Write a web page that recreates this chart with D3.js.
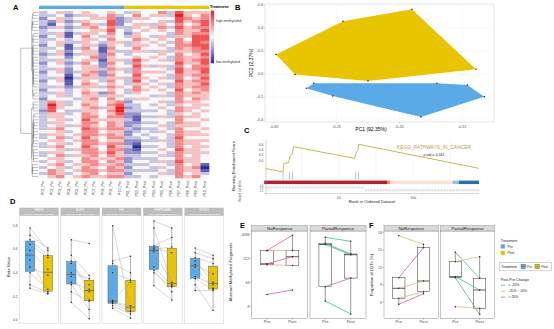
<!DOCTYPE html>
<html><head><meta charset="utf-8">
<script src="https://cdn.jsdelivr.net/npm/d3@7"></script>
<style>body{margin:0;background:#fff}svg{display:block}text{font-family:"Liberation Sans",Arial,sans-serif}</style>
</head><body><svg id="fig" width="554" height="329"></svg>
<script>
// ================= DATA =================
// Panel A: methylation heatmap, levels 0 (low) .. 8 (high); 10 Pre columns + 10 Post columns per row
const heatPre = ["3453454454","3342355463","2453445562","3252354472","3143465372","2352356463","3443445574","3351355464","2451464354","3343455464","3453354355","2451455254","3341364164","3452455153","2351355264","3442446254","3353455155","2452364264","3443455254","3352455365","2452356254","3441465264","3350355355","2451454364","3441465454","3352355365","2443454454","3353465264","3453455355","2444356464","3653455456","3853465467","3754456358","2743355468","3553465457","3554466466","3453475555","3554466465","3453565465","3564476566","4453466455","3554566565","3463475466","4554566455","3453466566","3564475475","4453566466","3554466575","3463556465","4554465556","3453466465","4564556556","3453465465","4654566566","3653456455","4564565566"];
const heatPost = ["3544637555","4645538546","3554447656","3444537567","4553546457","3545637566","3454546557","2544436566","3543535577","4654546477","3545436576","3554546677","4644436567","3553535566","3444546457","4545436556","3754536567","3644447557","4753536466","3644437567","3655547557","4744436566","3654536457","3743447566","3554536557","4645436566","3654547456","3544436565","4443536555","3554446465","2444536554","3343435455","2344546554","3333436545","2244435454","2133536554","3144446445","2233436554","2344535554","3233436445","2343546554","2434436555","3343437444","2233536555","2144436554","3033436455","2144547554","2233436555","3344536454","2333446554","2443537554","3334436451","2443546560","3333436551","2444536453","3343446564"];
const heatColLabels = ["P01_Pre","P02_Pre","P03_Pre","P04_Pre","P05_Pre","P06_Pre","P07_Pre","P08_Pre","P09_Pre","P10_Pre","P01_Post","P02_Post","P03_Post","P04_Post","P05_Post","P06_Post","P07_Post","P08_Post","P09_Post","P10_Post"];
const heatColGroup = ["Pre","Pre","Pre","Pre","Pre","Pre","Pre","Pre","Pre","Pre","Post","Post","Post","Post","Post","Post","Post","Post","Post","Post"];
const heatRowSplit = 30;
const heatLegendLabels = ["high methylated","low methylated"];

// Panel B: PCA coordinates
const pcaPre  = [[-0.2742,-0.124],[-0.2683,-0.081],[-0.170,-0.081],[-0.1457,-0.096],[-0.1322,-0.197],[-0.1827,-0.374],[-0.2532,-0.191]];
const pcaPost = [[-0.2984,0.170],[-0.2832,-0.004],[-0.225,-0.061],[-0.1388,0.041],[-0.190,0.563],[-0.245,0.458]];
const pcaXTicks = [-0.30,-0.25,-0.20,-0.15];
const pcaYTicks = [-0.4,-0.2,0.0,0.2,0.4,0.6];

// Panel C: GSEA
const gseaRunning = [[1.2,-0.31],[12.6,-0.44],[13.3,-0.11],[16.4,-0.09],[17.3,0.16],[18.7,0.22],[19.8,0.51],[60.7,0.07],[61.6,0.28],[62.9,0.39],[63.4,0.60],[144,-0.30]];
const gseaHits = [12.6,17,19,61.3,63.3];
const gseaBands = [[0,82.4],[82.4,84.5],[84.5,126.5],[126.5,130.7],[130.7,144]];
const gseaMetric = [[1,67,0.9],[68,144,-1.0]];
const gseaYTicks = [0.0,0.2,0.4,0.6];
const gseaXTicks = [50,100];

// Panel D: beta values per gene (paired samples)
const dGenes = ["BMP4","E2F3","FH","HSP90AB1","RXRG"];
const dCoords = ["chr14:54418942-54421560","chr6:20401213-20403418","chr1:241519610-241520852","chr6:44246155-44247378","chr9:137325016-137326340"];
const dPre = [
  [0.78,0.72,0.68,0.64,0.59,0.51,0.45,0.40,0.30,0.27],
  [0.68,0.55,0.50,0.48,0.40,0.37,0.32,0.30,0.24,0.15],
  [0.80,0.50,0.48,0.40,0.165,0.155,0.15,0.14,0.12,0.10],
  [0.84,0.78,0.63,0.61,0.60,0.58,0.45,0.42,0.40,0.29],
  [0.61,0.57,0.53,0.50,0.47,0.45,0.37,0.35,0.30,0.25]];
const dPost = [
  [0.59,0.61,0.55,0.53,0.43,0.24,0.38,0.26,0.23,0.22],
  [0.65,0.38,0.24,0.30,0.35,0.17,0.26,0.09,0.16,0.01],
  [0.08,0.54,0.40,0.34,0.32,0.12,0.10,0.07,0.05,0.015],
  [0.78,0.30,0.70,0.57,0.62,0.32,0.29,0.24,0.28,0.17],
  [0.55,0.52,0.48,0.32,0.39,0.27,0.30,0.26,0.08,0.25]];
const dYTicks = [0.0,0.2,0.4,0.6,0.8];

// Panels E/F
const responseGroups = ["NoResponse","PartialResponse"];
const timepoints = ["Pre","Post"];
const ePre  = [[1024,1000,323,297,23],[3158,1900,1700,45,13]];
const ePost = [[3755,1024,593,279,34],[2233,750,705,94,4.3]];
const eYTicks = [8,64,512,4096];
const fPre  = [[17.42,10.22,8.40,6.69,5.66],[14.58,12.96,10.39,10.22,5.25]];
const fPost = [[15.95,15.37,9.65,7.82,7.47],[10.12,13.82,8.11,3.94,4.97]];
const fYTicks = [6,9,12,15,18];
const changeLevels = ["< -20%","-20% ~ 20%","> 20%"];

// ================= STYLE =================
const C_PRE = "#5AAAE8", C_POST = "#E9C400";
const changeColors = ["#44b994","#e6b86c","#d85aab"];
const bandColors = ["#b2222e","#ee8a67","#fbe1d8","#8fc1e0","#2c6db0"];
const TXT = "#4d4d4d";

const svg = d3.select("#fig");
svg.append("rect").attr("width",554).attr("height",329).attr("fill","#fff");
function txt(g,x,y,s,size,opt={}){
  const t=g.append("text").attr("x",x).attr("y",y).text(s).attr("font-size",size)
    .attr("fill",opt.fill||"#000").attr("text-anchor",opt.anchor||"start");
  if(opt.weight) t.attr("font-weight",opt.weight);
  if(opt.rot!==undefined) t.attr("transform",`rotate(${opt.rot},${x},${y})`);
  if(opt.dy) t.attr("dy",opt.dy);
  return t;
}

// panel letters
[["A",13,10],["B",235,10],["C",244,133],["D",10,204],["E",240,228],["F",369,228]]
  .forEach(d=>txt(svg,d[1],d[2],d[0],7.5,{weight:"bold"}));

// ================= PANEL A =================
(function(){
  const g=svg.append("g");
  const heatRows = heatPre.map((p,i)=>(p+heatPost[i]).split("").map(Number));
  const nR=heatRows.length, nC=heatRows[0].length;
  const xH=d3.scaleBand().domain(d3.range(nC)).range([39,209]);
  const yH=d3.scaleBand().domain(d3.range(nR)).range([11,178]);
  const col=d3.scaleLinear().domain([0,4,8]).range(["#2a2a9e","#f8f8f8","#f01c1c"]);
  const grpCol=d3.scaleOrdinal().domain(["Pre","Post"]).range([C_PRE,C_POST]);
  heatRows.forEach((r,i)=>r.forEach((v,j)=>{
    g.append("rect").attr("x",xH(j)).attr("y",yH(i)).attr("width",xH.bandwidth()+0.3)
     .attr("height",yH.bandwidth()+0.3).attr("fill",col(v));
  }));
  heatColGroup.forEach((gr,j)=>g.append("rect").attr("x",xH(j)).attr("y",5.7)
     .attr("width",xH.bandwidth()+0.3).attr("height",3.3).attr("fill",grpCol(gr)));
  heatColLabels.forEach((l,j)=>txt(g,xH(j)+xH.bandwidth()/2+1.2,181,l,3.6,{anchor:"end",rot:-90,fill:"#444"}));
  // legend
  txt(g,210,7.8,"Treatment",3.9,{weight:"bold"});
  const defs=svg.append("defs");
  const lg=defs.append("linearGradient").attr("id","hmgrad").attr("x1",0).attr("x2",0).attr("y1",0).attr("y2",1);
  [[0,col(8)],[0.5,col(4)],[1,col(0)]].forEach(s=>lg.append("stop").attr("offset",s[0]).attr("stop-color",s[1]));
  g.append("rect").attr("x",210.7).attr("y",10.7).attr("width",3.4).attr("height",52.6).attr("fill","url(#hmgrad)");
  txt(g,216,22,heatLegendLabels[0],3.6,{fill:"#333"});
  txt(g,216,63,heatLegendLabels[1],3.6,{fill:"#333"});
  // row dendrogram (order-preserving average linkage)
  function dist(a,b){let s=0;for(let k=0;k<a.length;k++){const d=a[k]-b[k];s+=d*d;}return Math.sqrt(s);}
  function link(A,B){let s=0;for(const i of A.leaves)for(const j of B.leaves)s+=dist(heatRows[i],heatRows[j]);return s/(A.leaves.length*B.leaves.length);}
  function clusterAdj(idx){
    let nodes=idx.map(i=>({leaves:[i],h:0}));
    while(nodes.length>1){
      let best=0,bd=Infinity;
      for(let k=0;k<nodes.length-1;k++){const d=link(nodes[k],nodes[k+1]);if(d<bd){bd=d;best=k;}}
      const a=nodes[best],b=nodes[best+1];
      nodes.splice(best,2,{leaves:a.leaves.concat(b.leaves),h:Math.max(bd,a.h,b.h),children:[a,b]});
    }
    return nodes[0];
  }
  const up=clusterAdj(d3.range(0,heatRowSplit)), lo=clusterAdj(d3.range(heatRowSplit,nR));
  const root={children:[up,lo],root:true,leaves:[]};
  const hx=d3.scaleLinear().domain([0,Math.max(up.h,lo.h)]).range([38.5,31.5]);
  const X=n=>n.root?20.7:hx(n.h);
  function place(n){ if(!n.children){n.y=yH(n.leaves[0])+yH.bandwidth()/2;return;} n.children.forEach(place); n.y=(n.children[0].y+n.children[1].y)/2; }
  place(root);
  let p="";
  (function draw(n){ if(!n.children) return;
    const x=X(n),[a,b]=n.children;
    p+=`M${x},${a.y}V${b.y}M${x},${a.y}H${X(a)}M${x},${b.y}H${X(b)}`;
    draw(a);draw(b);})(root);
  g.append("path").attr("d",p).attr("fill","none").attr("stroke","#666").attr("stroke-width",0.4);
})();

// ================= PANEL B =================
(function(){
  const g=svg.append("g");
  const xB=d3.scaleLinear().domain([-0.30,-0.15]).range([274,462]);
  const yB=d3.scaleLinear().domain([-0.4,0.6]).range([120,5]);
  const L=265,R=494,T=4,B=122;
  g.append("rect").attr("x",L).attr("y",T).attr("width",R-L).attr("height",B-T).attr("fill","#fff").attr("stroke","#d0d0d0").attr("stroke-width",0.5);
  pcaXTicks.forEach(t=>{g.append("line").attr("x1",xB(t)).attr("x2",xB(t)).attr("y1",T).attr("y2",B).attr("stroke","#f0f0f0").attr("stroke-width",0.5);
    g.append("line").attr("x1",xB(t)).attr("x2",xB(t)).attr("y1",B).attr("y2",B+1.5).attr("stroke","#999").attr("stroke-width",0.4);
    txt(g,xB(t),B+5.5,t.toFixed(2),3.8,{anchor:"middle",fill:TXT});});
  pcaYTicks.forEach(t=>{g.append("line").attr("x1",L).attr("x2",R).attr("y1",yB(t)).attr("y2",yB(t)).attr("stroke","#f0f0f0").attr("stroke-width",0.5);
    g.append("line").attr("x1",L-1.5).attr("x2",L).attr("y1",yB(t)).attr("y2",yB(t)).attr("stroke","#999").attr("stroke-width",0.4);
    txt(g,L-2,yB(t)+1.3,t.toFixed(1),3.8,{anchor:"end",fill:TXT});});
  [[pcaPost,C_POST],[pcaPre,C_PRE]].forEach(([pts,c])=>{
    const h=d3.polygonHull(pts.map(d=>[xB(d[0]),yB(d[1])]));
    g.append("path").attr("d","M"+h.join("L")+"Z").attr("fill",c);
    pts.forEach(d=>g.append("circle").attr("cx",xB(d[0])).attr("cy",yB(d[1])).attr("r",0.8).attr("fill","#333"));
  });
  txt(g,371,131,"PC1 (92.35%)",5,{anchor:"middle"});
  txt(g,253,63,"PC2 (2.37%)",5,{anchor:"middle",rot:-90});
})();

// ================= PANEL C =================
(function(){
  const g=svg.append("g");
  const xC=d3.scaleLinear().domain([0,144]).range([264.2,478.8]);
  const yC=d3.scaleLinear().domain([0,0.6]).range([160.3,144.3]);
  const yM=d3.scaleLinear().domain([0,1]).range([188.7,185.9]);
  d3.range(25,144,25).forEach(r=>g.append("line").attr("x1",xC(r)).attr("x2",xC(r)).attr("y1",140).attr("y2",178).attr("stroke","#ececec").attr("stroke-width",0.5));
  gseaHits.forEach(h=>g.append("line").attr("x1",xC(h)).attr("x2",xC(h)).attr("y1",171.7).attr("y2",179.6).attr("stroke","#8a8a8a").attr("stroke-width",0.5));
  gseaBands.forEach((b,i)=>g.append("rect").attr("x",xC(b[0])).attr("y",180.6).attr("width",xC(b[1])-xC(b[0])+0.2).attr("height",3.5).attr("fill",bandColors[i]));
  gseaMetric.forEach(([a,b,v])=>d3.range(a,b+1).forEach(r=>g.append("line").attr("x1",xC(r)).attr("x2",xC(r)).attr("y1",yM(0)).attr("y2",yM(v)).attr("stroke","#bdbdbd").attr("stroke-width",0.45)));
  g.append("path").attr("d",d3.line().x(d=>xC(d[0])).y(d=>yC(d[1]))(gseaRunning)).attr("fill","none").attr("stroke","#d7a43c").attr("stroke-width",0.9);
  g.append("line").attr("x1",266).attr("x2",266).attr("y1",140).attr("y2",194).attr("stroke","#888").attr("stroke-width",0.4);
  g.append("line").attr("x1",264).attr("x2",479).attr("y1",193.5).attr("y2",193.5).attr("stroke","#999").attr("stroke-width",0.4);
  gseaYTicks.forEach(t=>txt(g,263.5,yC(t)+1.2,t.toFixed(1),3.4,{anchor:"end",fill:TXT}));
  [["0.5",186.5],["0.0",189.2],["-0.5",191.9]].forEach(d=>txt(g,263.5,d[1],d[0],2.6,{anchor:"end",fill:"#777"}));
  gseaXTicks.forEach(t=>txt(g,xC(t),198.6,String(t),3.4,{anchor:"middle",fill:TXT}));
  txt(g,372,203.2,"Rank in Ordered Dataset",4.2,{anchor:"middle",fill:"#222"});
  txt(g,235,166,"Running Enrichment Score",4.2,{anchor:"middle",rot:-90,fill:"#222"});
  txt(g,241,191,"Ranked List Metric",2.6,{anchor:"middle",rot:-90,fill:"#555"});
  txt(g,434,149,"KEGG_PATHWAYS_IN_CANCER",4.9,{anchor:"middle",fill:"#bf9c4c"});
  txt(g,434,155.5,"p.adj = 0.561",3.6,{anchor:"middle",fill:"#222"});
})();

// ================= box helper =================
function boxStats(vals,tf,inv){
  const s=vals.map(tf).sort(d3.ascending);
  const q1=d3.quantile(s,0.25),md=d3.quantile(s,0.5),q3=d3.quantile(s,0.75),iqr=q3-q1;
  const lo=d3.min(s.filter(v=>v>=q1-1.5*iqr)),hi=d3.max(s.filter(v=>v<=q3+1.5*iqr));
  return {q1:inv(q1),md:inv(md),q3:inv(q3),lo:inv(lo),hi:inv(hi)};
}
function drawBox(g,cx,w,st,y,fill,stroke,sw){
  g.append("line").attr("x1",cx).attr("x2",cx).attr("y1",y(st.q3)).attr("y2",y(st.hi)).attr("stroke",stroke).attr("stroke-width",sw);
  g.append("line").attr("x1",cx).attr("x2",cx).attr("y1",y(st.q1)).attr("y2",y(st.lo)).attr("stroke",stroke).attr("stroke-width",sw);
  g.append("rect").attr("x",cx-w/2).attr("y",y(st.q3)).attr("width",w).attr("height",y(st.q1)-y(st.q3)).attr("fill",fill).attr("stroke",stroke).attr("stroke-width",sw);
  g.append("line").attr("x1",cx-w/2).attr("x2",cx+w/2).attr("y1",y(st.md)).attr("y2",y(st.md)).attr("stroke",stroke).attr("stroke-width",sw*1.6);
}
const ident=v=>v;

// ================= PANEL D =================
(function(){
  const g=svg.append("g");
  const yD=d3.scaleLinear().domain([0,0.8]).range([320,225.7]);
  const fw=39.3, T=215.7, B=323.3;
  const xf=d3.scaleLinear().domain([0.4,2.6]).range([0,fw]);
  dGenes.forEach((gene,i)=>{
    const x0=19.3+i*41.3;
    g.append("rect").attr("x",x0).attr("y",T).attr("width",fw).attr("height",B-T).attr("fill","#fff").attr("stroke","#cfcfcf").attr("stroke-width",0.5);
    g.append("rect").attr("x",x0).attr("y",207.7).attr("width",fw).attr("height",8).attr("fill","#bdbdbd");
    txt(g,x0+fw/2,211.3,gene,3.3,{anchor:"middle",fill:"#fff"});
    txt(g,x0+fw/2,214.6,dCoords[i],2.5,{anchor:"middle",fill:"#fff"});
    const xa=x0+xf(1), xb=x0+xf(2);
    drawBox(g,xa,9.3,boxStats(dPre[i],ident,ident),yD,C_PRE,"#555",0.45);
    drawBox(g,xb,9.3,boxStats(dPost[i],ident,ident),yD,C_POST,"#555",0.45);
    dPre[i].forEach((v,k)=>g.append("line").attr("x1",xa).attr("x2",xb).attr("y1",yD(v)).attr("y2",yD(dPost[i][k])).attr("stroke","#a8a8a8").attr("stroke-width",0.45));
    dPre[i].forEach(v=>g.append("circle").attr("cx",xa).attr("cy",yD(v)).attr("r",0.75).attr("fill","#222"));
    dPost[i].forEach(v=>g.append("circle").attr("cx",xb).attr("cy",yD(v)).attr("r",0.75).attr("fill","#222"));
  });
  dYTicks.forEach(t=>txt(g,17.5,yD(t)+1.1,t.toFixed(1),3.3,{anchor:"end",fill:TXT}));
  txt(g,9.5,267,"Beta Value",4.2,{anchor:"middle",rot:-90,fill:"#222"});
})();

// ================= PANELS E & F =================
function pairedPanel(facetX,facetW,pre,post,y,ticks,tickFmt,tf,inv,axisX,title,titleX,titleY){
  const g=svg.append("g");
  const T=231,B=318.3;
  const xf=d3.scaleLinear().domain([0.4,2.6]);
  responseGroups.forEach((grp,i)=>{
    const x0=facetX[i], w=facetW[i]; xf.range([x0,x0+w]);
    g.append("rect").attr("x",x0).attr("y",T).attr("width",w).attr("height",B-T).attr("fill","#fff").attr("stroke","#8c8c8c").attr("stroke-width",0.5);
    g.append("rect").attr("x",x0).attr("y",225.7).attr("width",w).attr("height",5.3).attr("fill","#d9d9d9").attr("stroke","#8c8c8c").attr("stroke-width",0.5);
    txt(g,x0+w/2,229.8,grp,4.4,{anchor:"middle",fill:"#222"});
    const xa=xf(1), xb=xf(2), bw=w*0.5/2.2;
    drawBox(g,xa,bw,boxStats(pre[i],tf,inv),y,"#fff","#333",0.5);
    drawBox(g,xb,bw,boxStats(post[i],tf,inv),y,"#fff","#333",0.5);
    pre[i].forEach((v,k)=>{
      const ch=(post[i][k]-v)/v, c=ch< -0.2?0:(ch>0.2?2:1);
      g.append("line").attr("x1",xa).attr("x2",xb).attr("y1",y(v)).attr("y2",y(post[i][k])).attr("stroke",changeColors[c]).attr("stroke-width",0.8);
    });
    pre[i].forEach(v=>g.append("circle").attr("cx",xa).attr("cy",y(v)).attr("r",0.75).attr("fill","#222"));
    post[i].forEach(v=>g.append("circle").attr("cx",xb).attr("cy",y(v)).attr("r",0.75).attr("fill","#222"));
    timepoints.forEach((tp,k)=>{
      g.append("line").attr("x1",xf(k+1)).attr("x2",xf(k+1)).attr("y1",B).attr("y2",B+1.3).attr("stroke","#555").attr("stroke-width",0.4);
      txt(g,xf(k+1),323,tp,4.1,{anchor:"middle",fill:TXT});
    });
  });
  ticks.forEach(t=>{
    g.append("line").attr("x1",facetX[0]-1.3).attr("x2",facetX[0]).attr("y1",y(t)).attr("y2",y(t)).attr("stroke","#555").attr("stroke-width",0.4);
    txt(g,axisX,y(t)+1.2,tickFmt(t),3.5,{anchor:"end",fill:TXT});
  });
  txt(g,titleX,titleY,title,4.2,{anchor:"middle",rot:-90,fill:"#222"});
}
const yE=d3.scaleLog().base(2).domain([8,4096]).range([306.7,234.3]);
pairedPanel([251.7,310],[56,56],ePre,ePost,yE,eYTicks,String,Math.log2,v=>Math.pow(2,v),249.5,"Aberrant Methylated Fragments",231.5,272);
const yF=d3.scaleLinear().domain([6,18]).range([302.3,232.3]);
pairedPanel([384,440.7],[54.3,53.6],fPre,fPost,yF,fYTicks,String,ident,ident,382,"Proportion of LDTs (%)",372.5,275);

// ================= E/F legends =================
(function(){
  const g=svg.append("g");
  txt(g,500.7,241.6,"Treatment",3.7,{fill:"#222"});
  [[C_PRE,244.3,"Pre"],[C_POST,250.7,"Post"]].forEach(d=>{
    g.append("rect").attr("x",500.7).attr("y",d[1]).attr("width",4.2).attr("height",4.2).attr("fill",d[0]);
    txt(g,507.5,d[1]+3.3,d[2],3.4,{fill:"#222"});
  });
  g.append("rect").attr("x",499.3).attr("y",262.4).attr("width",52.4).attr("height",8.4).attr("fill","#fff").attr("stroke","#aaa").attr("stroke-width",0.5);
  txt(g,501,268,"Treatment",3.5,{fill:"#222"});
  [[C_PRE,521,"Pre",527],[C_POST,535,"Post",541.2]].forEach(d=>{
    g.append("rect").attr("x",d[1]).attr("y",264.3).attr("width",4.4).attr("height",4.4).attr("fill",d[0]).attr("stroke","#555").attr("stroke-width",0.4);
    g.append("line").attr("x1",d[1]).attr("x2",d[1]+4.4).attr("y1",266.5).attr("y2",266.5).attr("stroke","#555").attr("stroke-width",0.4);
    txt(g,d[3],268,d[2],3.2,{fill:"#222"});
  });
  txt(g,500.7,280.7,"Post-Pre Change",3.7,{fill:"#222"});
  changeLevels.forEach((l,i)=>{
    const yy=285.2+i*6;
    g.append("line").attr("x1",500.9).attr("x2",505.3).attr("y1",yy).attr("y2",yy).attr("stroke",changeColors[i]).attr("stroke-width",0.8);
    txt(g,508.5,yy+1.2,l,3.4,{fill:"#222"});
  });
})();
</script></body></html>
